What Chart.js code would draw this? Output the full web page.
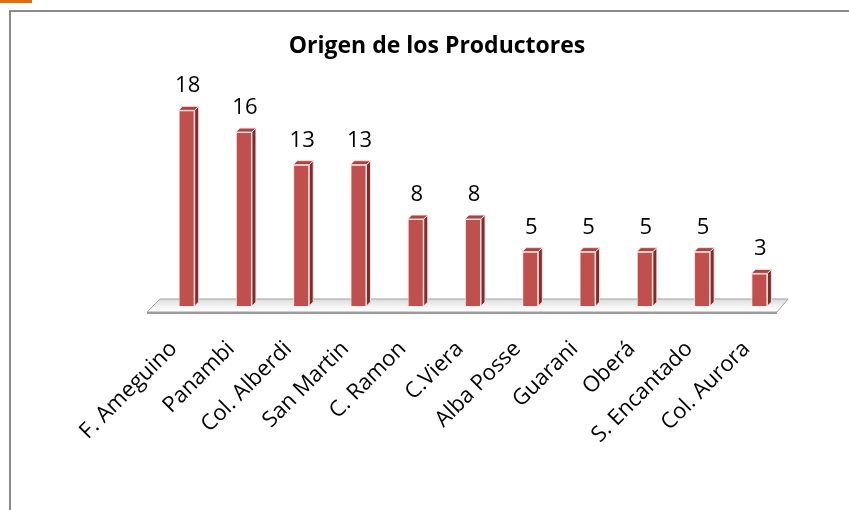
<!DOCTYPE html>
<html>
<head>
<meta charset="utf-8">
<script src="https://cdn.jsdelivr.net/npm/chart.js@4/dist/chart.umd.min.js"></script>
<style>
  html, body { margin: 0; padding: 0; background: #fff; overflow: hidden; }
  #wrap { position: relative; width: 849px; height: 510px; }
  #frame { position: absolute; left: 9px; top: 10px; width: 900px; height: 600px; border: 2px solid #8a8a8a; box-sizing: border-box; }
  #tab { position: absolute; left: 0; top: 0; width: 32px; height: 3px; background: #e46c0a; }
  canvas { position: absolute; left: 0; top: 0; }
</style>
</head>
<body>
<div id="wrap">
  <div id="frame"></div>
  <div id="tab"></div>
  <canvas id="chart" width="849" height="510"></canvas>
</div>
<script>
const categories = ["F. Ameguino", "Panambi", "Col. Alberdi", "San Martin", "C. Ramon", "C.Viera", "Alba Posse", "Guarani", "Oberá", "S. Encantado", "Col. Aurora"];
const productores = [18, 16, 13, 13, 8, 8, 5, 5, 5, 5, 3];

const FONT = "'Open Sans', 'DejaVu Sans', sans-serif";

// floor under the bars
const floorPlugin = {
  id: "floor",
  beforeDatasetsDraw(chart) {
    const c = chart.ctx;
    const xs = chart.scales.x;
    const y0 = chart.scales.y.getPixelForValue(0);
    const l = xs.left - 11, r = xs.right;
    c.save();
    // thickness
    c.fillStyle = "#9a9a9a";
    c.beginPath();
    c.moveTo(l, y0 + 6);
    c.lineTo(r - 11, y0 + 6);
    c.lineTo(r - 11, y0 + 8);
    c.lineTo(l, y0 + 8);
    c.closePath();
    c.fill();
    const g = c.createLinearGradient(0, y0 - 7, 0, y0 + 6);
    g.addColorStop(0, "#dcdcdc");
    g.addColorStop(0.6, "#f5f5f5");
    g.addColorStop(1, "#ffffff");
    c.fillStyle = g;
    c.strokeStyle = "#a0a0a0";
    c.lineWidth = 1;
    c.beginPath();
    c.moveTo(l + 13, y0 - 7);
    c.lineTo(r, y0 - 7);
    c.lineTo(r - 11, y0 + 6);
    c.lineTo(l, y0 + 6);
    c.closePath();
    c.fill();
    c.stroke();
    c.restore();
  },
};

// side and top faces of each bar, plus value labels
const bar3dPlugin = {
  id: "bar3d",
  afterDatasetsDraw(chart) {
    const c = chart.ctx;
    const meta = chart.getDatasetMeta(0);
    const dx = 4, dy = 4;
    c.save();
    meta.data.forEach((bar, i) => {
      const p = bar.getProps(["x", "y", "base", "width"], true);
      const left = p.x - p.width / 2, right = p.x + p.width / 2;
      // side
      c.fillStyle = "#7d2e2c";
      c.beginPath();
      c.moveTo(right, p.y);
      c.lineTo(right + dx, p.y - dy);
      c.lineTo(right + dx, p.base - dy);
      c.lineTo(right, p.base);
      c.closePath();
      c.fill();
      c.strokeStyle = "#f2dede";
      c.lineWidth = 1;
      c.stroke();
      // top
      c.fillStyle = "#a84442";
      c.beginPath();
      c.moveTo(left, p.y);
      c.lineTo(left + dx, p.y - dy);
      c.lineTo(right + dx, p.y - dy);
      c.lineTo(right, p.y);
      c.closePath();
      c.fill();
      c.stroke();
      // value
      c.fillStyle = "#000";
      c.font = "22px " + FONT;
      c.textAlign = "center";
      c.textBaseline = "alphabetic";
      c.fillText(productores[i], p.x + 1, p.y - 18);
    });
    c.restore();
  },
};

new Chart(document.getElementById("chart"), {
  type: "bar",
  data: {
    labels: categories,
    datasets: [
      {
        label: "Productores",
        data: productores,
        backgroundColor: "#c0504d",
        borderColor: "#f2dede",
        borderWidth: 1,
        barPercentage: 0.53,
        categoryPercentage: 0.53,
      },
    ],
  },
  options: {
    responsive: false,
    animation: false,
    layout: { padding: { left: 86, right: 61, top: 0, bottom: 0 } },
    plugins: {
      legend: { display: false },
      tooltip: { enabled: false },
      title: {
        display: true,
        text: "Origen de los Productores",
        color: "#000",
        font: { family: FONT, size: 23, weight: "bold" },
        padding: { top: 33, bottom: 28 },
      },
    },
    scales: {
      x: {
        grid: { display: false },
        border: { display: false },
        ticks: {
          color: "#000",
          font: { family: FONT, size: 22 },
          maxRotation: 45,
          minRotation: 45,
          padding: 22,
          labelOffset: -13,
        },
        afterFit: (s) => { s.height = 204; },
      },
      y: {
        min: 0,
        max: 20,
        grid: { display: false },
        border: { display: false },
        ticks: { display: false },
        afterFit: (s) => { s.width = 72; },
      },
    },
  },
  plugins: [floorPlugin, bar3dPlugin],
});
</script>
</body>
</html>
